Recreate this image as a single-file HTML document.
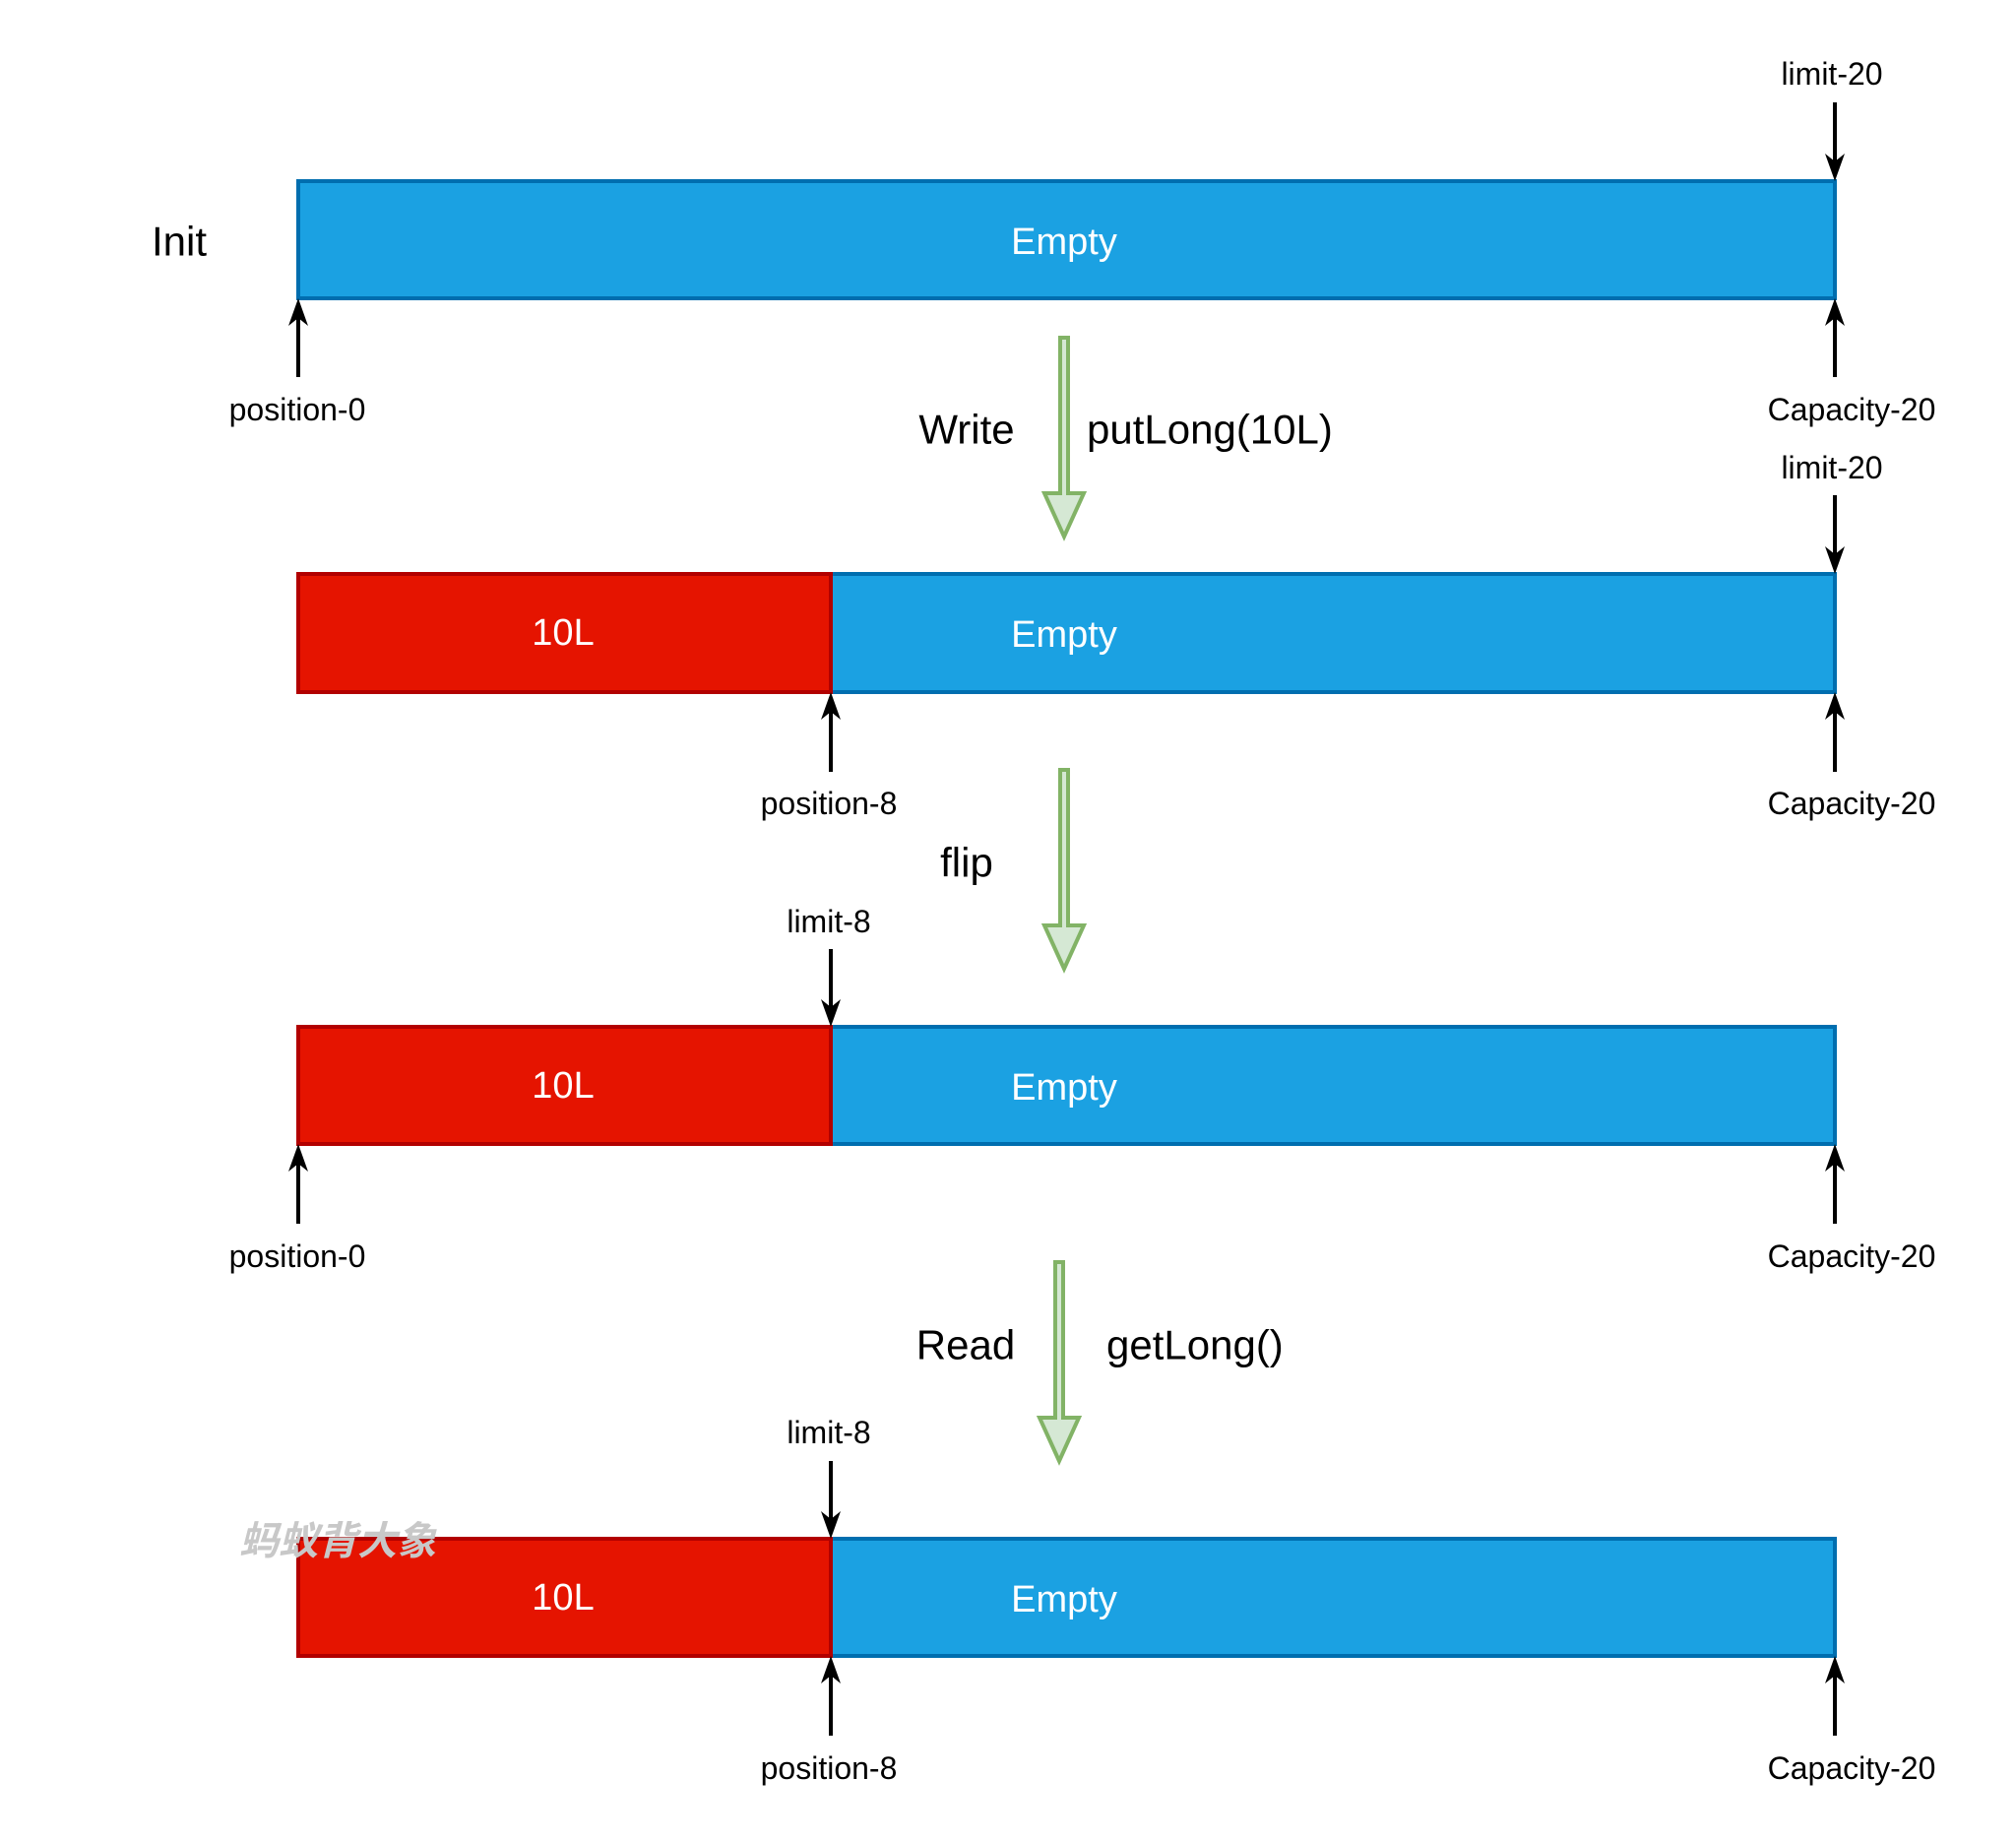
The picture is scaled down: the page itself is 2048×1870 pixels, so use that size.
<!DOCTYPE html>
<html><head><meta charset="utf-8"><style>html,body{margin:0;padding:0;background:#fff}svg{display:block}</style></head>
<body>
<svg width="2048" height="1870" viewBox="0 0 2048 1870" xmlns="http://www.w3.org/2000/svg" font-family="Liberation Sans, sans-serif">
<rect width="2048" height="1870" fill="#fff"/>
<g stroke-width="4">
<rect x="303" y="184" width="1561" height="119" fill="#1ba1e2" stroke="#006eaf"/>
<rect x="844" y="583" width="1020" height="120" fill="#1ba1e2" stroke="#006eaf"/>
<rect x="303" y="583" width="541" height="120" fill="#e51400" stroke="#b20000"/>
<rect x="844" y="1043" width="1020" height="119" fill="#1ba1e2" stroke="#006eaf"/>
<rect x="303" y="1043" width="541" height="119" fill="#e51400" stroke="#b20000"/>
<rect x="844" y="1563" width="1020" height="119" fill="#1ba1e2" stroke="#006eaf"/>
<rect x="303" y="1563" width="541" height="119" fill="#e51400" stroke="#b20000"/>
</g>
<g fill="#fff" font-size="38" text-anchor="middle" dominant-baseline="central">
<text x="1081" y="246">Empty</text>
<text x="1081" y="645">Empty</text><text x="572" y="643">10L</text>
<text x="1081" y="1105">Empty</text><text x="572" y="1103">10L</text>
<text x="1081" y="1625">Empty</text><text x="572" y="1623">10L</text>
</g>
<g stroke="#000" stroke-width="4" fill="none">
<line x1="303" y1="383" x2="303" y2="312"/>
<line x1="1864" y1="383" x2="1864" y2="312"/>
<line x1="1864" y1="104" x2="1864" y2="174"/>
<line x1="1864" y1="503" x2="1864" y2="573"/>
<line x1="844" y1="784" x2="844" y2="712"/>
<line x1="1864" y1="784" x2="1864" y2="712"/>
<line x1="844" y1="964" x2="844" y2="1033"/>
<line x1="303" y1="1243" x2="303" y2="1171"/>
<line x1="1864" y1="1243" x2="1864" y2="1171"/>
<line x1="844" y1="1484" x2="844" y2="1553"/>
<line x1="844" y1="1763" x2="844" y2="1691"/>
<line x1="1864" y1="1763" x2="1864" y2="1691"/>
</g>
<g fill="#000">
<path d="M303 303 l-10 28 l10 -8 l10 8z"/>
<path d="M1864 303 l-10 28 l10 -8 l10 8z"/>
<path d="M844 703 l-10 28 l10 -8 l10 8z"/>
<path d="M1864 703 l-10 28 l10 -8 l10 8z"/>
<path d="M303 1162 l-10 28 l10 -8 l10 8z"/>
<path d="M1864 1162 l-10 28 l10 -8 l10 8z"/>
<path d="M844 1682 l-10 28 l10 -8 l10 8z"/>
<path d="M1864 1682 l-10 28 l10 -8 l10 8z"/>
<path d="M1864 184 l-10 -28 l10 8 l10 -8z"/>
<path d="M1864 583 l-10 -28 l10 8 l10 -8z"/>
<path d="M844 1043 l-10 -28 l10 8 l10 -8z"/>
<path d="M844 1563 l-10 -28 l10 8 l10 -8z"/>
</g>
<g fill="#000" font-size="32" text-anchor="middle" dominant-baseline="central">
<text x="1861" y="75">limit-20</text>
<text x="302" y="416">position-0</text>
<text x="1881" y="416">Capacity-20</text>
<text x="1861" y="475">limit-20</text>
<text x="842" y="816">position-8</text>
<text x="1881" y="816">Capacity-20</text>
<text x="842" y="936">limit-8</text>
<text x="302" y="1276">position-0</text>
<text x="1881" y="1276">Capacity-20</text>
<text x="842" y="1455">limit-8</text>
<text x="842" y="1796">position-8</text>
<text x="1881" y="1796">Capacity-20</text>
</g>
<g fill="#000" font-size="42" dominant-baseline="central">
<text x="182" y="245" text-anchor="middle">Init</text>
<text x="982" y="436" text-anchor="middle">Write</text>
<text x="1104" y="436">putLong(10L)</text>
<text x="982" y="876" text-anchor="middle">flip</text>
<text x="981" y="1366" text-anchor="middle">Read</text>
<text x="1124" y="1366">getLong()</text>
</g>
<g fill="#d5e8d4" stroke="#82b366" stroke-width="4" stroke-linejoin="miter">
<path d="M1077 343 h8 v158 h16 l-20 44 l-20 -44 h16z"/>
<path d="M1077 782 h8 v158 h16 l-20 44 l-20 -44 h16z"/>
<path d="M1072 1282 h8 v158 h16 l-20 44 l-20 -44 h16z"/>
</g>
<text x="243" y="1566" font-size="40" font-weight="bold" font-style="italic" fill="#c8c8c8" dominant-baseline="central" font-family="Liberation Sans, Noto Sans CJK SC, sans-serif">蚂蚁背大象</text>
</svg>
</body></html>
